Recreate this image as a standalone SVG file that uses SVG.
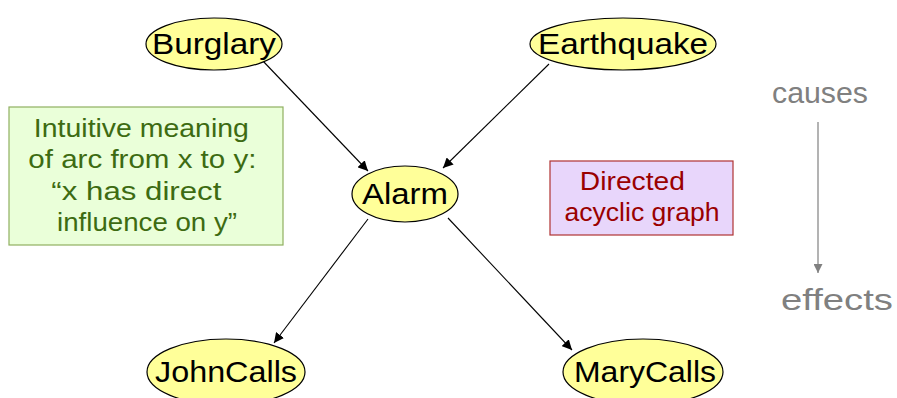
<svg xmlns="http://www.w3.org/2000/svg" width="897" height="398" viewBox="0 0 897 398">
  <defs>
    <marker id="arrow" viewBox="0 0 10 10" refX="10" refY="5" markerWidth="10" markerHeight="10" markerUnits="userSpaceOnUse" orient="auto">
      <path d="M0,0 L10,5 L0,10 z" fill="#000"/>
    </marker>
    <marker id="arrowGray" viewBox="0 0 10 10" refX="10" refY="5" markerWidth="9" markerHeight="9" markerUnits="userSpaceOnUse" orient="auto">
      <path d="M0,0 L10,5 L0,10 z" fill="#808080"/>
    </marker>
    <style>
      .node ellipse { fill: #ffff99; stroke: #000; stroke-width: 1.2; }
      .node text { font-family: "Liberation Sans", Arial, sans-serif; font-size: 29px; fill: #000; text-anchor: middle; dominant-baseline: central; }
      .edge { stroke: #000; stroke-width: 1.1; fill: none; marker-end: url(#arrow); }
      .note { font-family: "Liberation Sans", Arial, sans-serif; font-size: 26px; text-anchor: middle; }
      .gray { font-family: "Liberation Sans", Arial, sans-serif; font-size: 29px; fill: #808080; text-anchor: middle; }
    </style>
  </defs>
  <rect width="897" height="398" fill="#fff"/>

  <!-- connectors -->
  <g id="connectors">
    <line class="edge" x1="262" y1="60" x2="368" y2="171"/>
    <line class="edge" x1="549" y1="64" x2="443" y2="168"/>
    <line class="edge" x1="368" y1="219" x2="274" y2="343"/>
    <line class="edge" x1="448" y1="218" x2="572" y2="350"/>
  </g>

  <!-- nodes -->
  <g id="burglary" class="node">
    <ellipse cx="214" cy="44" rx="68" ry="26"/>
    <text x="214" y="44" textLength="124" lengthAdjust="spacingAndGlyphs">Burglary</text>
  </g>
  <g id="earthquake" class="node">
    <ellipse cx="623" cy="44" rx="93" ry="26"/>
    <text x="623" y="44" textLength="170" lengthAdjust="spacingAndGlyphs">Earthquake</text>
  </g>
  <g id="alarm" class="node">
    <ellipse cx="405" cy="194" rx="53" ry="28"/>
    <text x="405" y="194" textLength="86" lengthAdjust="spacingAndGlyphs">Alarm</text>
  </g>
  <g id="johncalls" class="node">
    <ellipse cx="226" cy="372" rx="79" ry="33"/>
    <text x="226" y="372" textLength="142" lengthAdjust="spacingAndGlyphs">JohnCalls</text>
  </g>
  <g id="marycalls" class="node">
    <ellipse cx="643" cy="372" rx="80" ry="33"/>
    <text x="645" y="372" textLength="142" lengthAdjust="spacingAndGlyphs">MaryCalls</text>
  </g>

  <!-- annotation: meaning of an arc -->
  <g id="meaning">
    <rect x="9" y="107" width="274" height="138" fill="#eaffd9" stroke="#8fb060" stroke-width="1.2"/>
    <text class="note" fill="#3d6b12">
      <tspan x="145" y="137" textLength="215" lengthAdjust="spacingAndGlyphs">Intuitive meaning</tspan>
      <tspan x="146" y="168" textLength="228" lengthAdjust="spacingAndGlyphs">of arc from x to y:</tspan>
      <tspan x="140" y="200" textLength="170" lengthAdjust="spacingAndGlyphs">“x has direct</tspan>
      <tspan x="147" y="231" textLength="180" lengthAdjust="spacingAndGlyphs">influence on y”</tspan>
    </text>
  </g>

  <!-- annotation: graph type -->
  <g id="dag">
    <rect x="550" y="161" width="183" height="74" fill="#e8d6fb" stroke="#b03232" stroke-width="1.2"/>
    <text class="note" fill="#9a0000">
      <tspan x="636" y="190" textLength="105" lengthAdjust="spacingAndGlyphs">Directed</tspan>
      <tspan x="642" y="221" textLength="155" lengthAdjust="spacingAndGlyphs">acyclic graph</tspan>
    </text>
  </g>

  <!-- causes to effects direction -->
  <g id="direction">
    <text class="gray" x="820" y="103" textLength="96" lengthAdjust="spacingAndGlyphs">causes</text>
    <line x1="818" y1="122" x2="818" y2="273" stroke="#808080" stroke-width="1.2" marker-end="url(#arrowGray)"/>
    <text class="gray" x="837" y="310" textLength="112" lengthAdjust="spacingAndGlyphs">effects</text>
  </g>
</svg>
